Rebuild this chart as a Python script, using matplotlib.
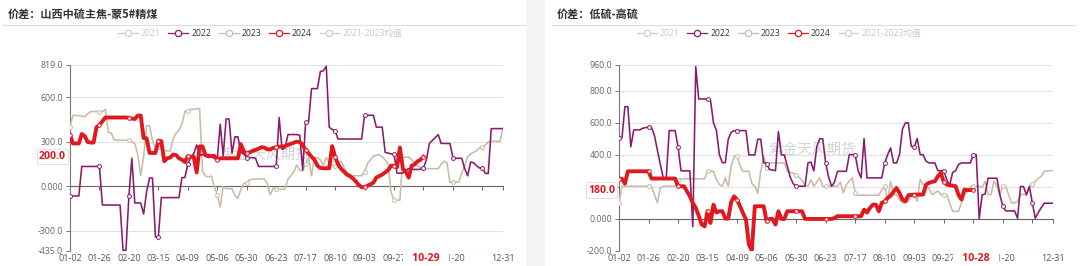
import matplotlib
matplotlib.use('Agg')
import matplotlib.pyplot as plt
from matplotlib.lines import Line2D
from matplotlib.patches import Rectangle
from matplotlib.transforms import blended_transform_factory as blend

plt.rcParams['font.family'] = ['Open Sans', 'Noto Sans CJK SC', 'DejaVu Sans']

# ---------------- data ----------------
n_cat = 148
tick_idx = [0, 10, 20, 30, 40, 50, 60, 70, 80, 90, 100, 110, 120, 130, 140, 147]
tick_labels = ['01-02', '01-26', '02-20', '03-15', '04-09', '05-06', '05-30', '06-23',
               '07-17', '08-10', '09-03', '09-27', '10-21', '11-20', '', '12-31']

legend_names = ['2021', '2022', '2023', '2024', '2021-2023均值']

left_title = '价差：山西中硫主焦-蒙5#精煤'
left_last_date = '10-29'
left_yticks = [819, 600, 300, 0, -300, -435]
left_ylabels = ['819.0', '600.0', '300.0', '0.000', '-300.0', '-435.0']
left_2022 = [-64, -64, -64, -64, 135, 135, 135, 135, 135, 135,
             135, -125, -125, -125, -125, -125, -125, -125, -430, -430,
             -64, 190, -111, -111, -111, -185, -37, 57, 57, -340,
             -340, -75, -75, -75, -75, -75, -75, -75, 60, 60,
             150, 200, 220, 280, 210, 215, 205, 195, 200, 190,
             185, 420, 205, 455, 455, 225, 335, 335, 230, 220,
             195, 195, 195, 190, 135, 135, 135, 135, 135, 135,
             135, 465, 250, 260, 350, 350, 350, 350, 345, 110,
             435, 435, 660, 660, 660, 775, 780, 810, 400, 385,
             375, 320, 320, 320, 320, 320, 320, 320, 320, 320,
             480, 480, 480, 480, 400, 400, 400, 230, 225, 220,
             218, 90, 90, 90, 110, 120, 115, 115, 115, 115,
             125, 180, 290, 310, 330, 350, 290, 290, 290, 290,
             195, 190, 190, 190, 120, 72, 165, 160, 140, 125,
             125, 88, 88, 390, 390, 390, 390, 390]
left_2023 = [400, 480, 480, 475, 475, 470, 490, 505, 505, 505,
             505, 505, 520, 365, 360, 315, 312, 312, 312, 312,
             312, 300, 290, 218, 72, 200, 410, 410, 310, 260,
             263, 250, 240, 240, 240, 320, 360, 380, 420, 505,
             510, 520, 520, 525, 525, 100, 70, 65, 70, 0,
             -55, -140, 0, -15, -15, -15, -60, -80, -20, 20,
             25, 45, 50, 50, 50, 50, 50, 20, -55, -10,
             -18, -18, -18, -18, 50, 72, 100, 145, 110, 106,
             150, 195, 72, 195, 195, 180, 140, 195, 160, 140,
             140, 160, 170, 130, 95, 80, 72, 72, 72, 72,
             100, 155, 180, 205, 210, 215, 200, 180, 150, -40,
             -92, -92, -92, 195, 197, 200, 180, 160, 140, 125,
             122, 120, 120, 120, 120, 120, 150, 170, 160, 27,
             30, 30, 30, 90, 140, 200, 220, 230, 240, 262,
             267, 280, 300, 305, 305, 305, 305, 395]
left_2024 = [347, 290, 290, 290, 354, 340, 300, 296, 296, 400,
             415, 440, 465, 465, 465, 465, 465, 465, 465, 465,
             464, 458, 455, 478, 478, 327, 325, 226, 226, 226,
             309, 305, 170, 190, 195, 215, 212, 190, 180, 165,
             205, 200, 200, 95, 270, 270, 210, 208, 205, 206,
             180, 190, 190, 190, 190, 190, 190, 190, 285, 235,
             224, 230, 240, 246, 255, 265, 262, 250, 250, 260,
             264, 268, 270, 272, 280, 288, 295, 302, 300, 280,
             246, 224, 200, 180, 140, 125, 123, 123, 123, 272,
             200, 150, 120, 100, 80, 70, 55, 35, 10, -5,
             -5, 5, 15, 25, 60, 70, 80, 95, 110, 140,
             140, 130, 262, 120, 100, 60, 140, 150, 170, 180,
             200]

right_title = '价差：低硫-高硫'
right_last_date = '10-28'
right_yticks = [960, 800, 600, 400, 200, 0, -200]
right_ylabels = ['960.0', '800.0', '600.0', '400.0', '', '0.000', '-200.0']
right_2022 = [505, 505, 700, 700, 450, 555, 555, 555, 565, 570,
              572, 572, 520, 430, 340, 255, 255, 551, 551, 551,
              450, 300, 300, 300, 300, -48, 950, 748, 748, 748,
              748, 740, 600, 551, 400, 351, 351, 497, 540, 551,
              551, 551, 551, 551, 399, 399, 399, 497, 497, 351,
              345, 308, 305, 301, 545, 399, 399, 330, 260, 220,
              204, 204, 204, 204, 349, 355, 300, 450, 500, 500,
              351, 260, 204, 230, 297, 297, 297, 297, 401, 401,
              401, 300, 256, 501, 256, 256, 256, 256, 256, 256,
              349, 401, 443, 349, 349, 401, 560, 599, 599, 453,
              450, 501, 401, 401, 360, 349, 349, 349, 301, 301,
              301, 245, 210, 290, 300, 340, 349, 349, 349, 349,
              401, 401, 0, 150, 155, 254, 254, 254, 254, 150,
              80, 50, 50, 50, 50, 4, 202, 202, 150, 202,
              100, 4, 40, 70, 98, 98, 98, 98]
right_2023 = [100, 204, 204, 204, 204, 204, 204, 204, 204, 204,
              204, 204, 152, 100, 193, 204, 204, 204, 204, 204,
              245, 250, 250, 250, 250, 250, 250, 250, 250, 250,
              297, 297, 297, 245, 215, 204, 256, 204, 330, 391,
              391, 330, 297, 297, 297, 220, 204, 160, 297, 391,
              320, 349, 349, 349, 349, 349, 349, 297, 290, 285,
              276, 260, 240, 214, 204, 245, 204, 230, 256, 204,
              204, 204, 204, 204, 204, 230, 162, 214, 235, 256,
              162, 148, 148, 148, 148, 148, 148, 148, 148, 180,
              204, 110, 235, 152, 152, 120, 100, 100, 110, 140,
              152, 110, 245, 215, 204, 190, 152, 162, 175, 152,
              152, 152, 100, 48, 48, 48, 100, 152, 170, 204,
              204, 204, 204, 195, 235, 152, 152, 235, 204, 152,
              204, 204, 150, 100, 100, 110, 152, 152, 152, 204,
              215, 235, 252, 265, 297, 300, 301, 301]
right_2024 = [252, 250, 220, 297, 297, 297, 297, 297, 297, 297,
              297, 252, 252, 252, 252, 252, 252, 252, 252, 252,
              204, 204, 204, 173, 141, 100, 69, 20, -35, -46,
              48, -25, 89, 40, 48, 48, 2, 2, 106, 141,
              120, 79, 37, -4, -160, -198, 79, 79, 79, 79,
              -15, 0, 0, -35, 48, 0, 0, 48, 48, 48,
              48, 48, 48, 0, 0, 0, 0, 0, 0, 0,
              0, 0, 0, 6, 17, 17, 17, 17, 17, 17,
              17, 17, 17, 58, 40, 69, 89, 89, 48, 100,
              110, 131, 145, 170, 193, 162, 121, 110, 148, 150,
              152, 152, 152, 152, 214, 225, 231, 235, 266, 287,
              231, 214, 210, 208, 204, 150, 121, 183, 180, 180,
              180]

# ---------------- style ----------------
C21 = '#cccccc'
C22 = '#8a1a6c'
C23 = '#c9bba8'
C24 = '#e0191f'
CAVG = '#cccccc'
RED_TXT = '#e0191f'

W, H = 1080, 266
fig = plt.figure(figsize=(W / 100, H / 100), dpi=100)
fig.patch.set_facecolor('white')

# gray gap between the two panels
fig.patches.append(Rectangle((526 / W, 0), 19 / W, 1, transform=fig.transFigure,
                             facecolor='#f3f3f3', edgecolor='none', zorder=0))


def panel(rect, title, title_x, sep, legend_x, s22, s23, s24, yticks, ylabels,
          last_date, wm_pos):
    ax = fig.add_axes(rect)
    ax.set_facecolor('none')
    x = list(range(n_cat))
    ax.plot(x[:len(s23)], s23, color=C23, lw=1.15, marker='o', ms=2.8, mfc='white',
            mec=C23, mew=0.7, markevery=10, zorder=3)
    ax.plot(x[:len(s22)], s22, color=C22, lw=1.15, marker='o', ms=2.8, mfc='white',
            mec=C22, mew=0.7, markevery=10, zorder=4)
    ax.plot(x[:len(s24)], s24, color=C24, lw=2.8, marker='o', ms=2.6, mfc='white',
            mec=C24, mew=0.7, markevery=10, zorder=5, solid_joinstyle='round')

    ax.set_xlim(0, n_cat - 1)
    ax.set_ylim(yticks[-1], yticks[0])
    ax.set_yticks(yticks)
    ax.set_yticklabels(ylabels)
    ax.grid(axis='y', color='#e2e2e2', lw=0.8, zorder=0)
    ax.set_axisbelow(True)

    for s in ['top', 'right']:
        ax.spines[s].set_visible(False)
    ax.spines['left'].set_color('#777777')
    ax.spines['left'].set_linewidth(0.8)
    ax.spines['bottom'].set_position(('data', 0))
    ax.spines['bottom'].set_color('#666666')
    ax.spines['bottom'].set_linewidth(0.8)
    ax.spines['bottom'].set_zorder(2)

    ax.set_xticks(tick_idx)
    ax.tick_params(axis='x', length=3, width=0.7, color='#666666', direction='out',
                   labelbottom=False)
    ax.tick_params(axis='y', length=3, width=0.7, color='#777777', labelsize=6.3,
                   labelcolor='#666666', pad=2)

    last_i = len(s24) - 1
    tr = blend(ax.transData, ax.transAxes)
    for i, lab in zip(tick_idx, tick_labels):
        if i == last_i:
            continue  # hidden under the highlighted latest-date label
        ax.text(i, -0.018, lab, transform=tr, ha='center', va='top', fontsize=6.5,
                color='#555555', zorder=6)
    ax.text(last_i + 0.8, -0.012, '   ' + last_date + '   ', transform=tr, ha='center',
            va='top', fontsize=7.6, fontweight='bold', color=RED_TXT, zorder=7,
            bbox=dict(boxstyle='square,pad=0.1', fc='white', ec='none'))

    # latest value label on the y axis
    tr2 = blend(ax.transAxes, ax.transData)
    ax.text(-0.009, s24[-1], f'{s24[-1]:.1f}', transform=tr2, ha='right', va='center',
            fontsize=7.6, fontweight='bold', color=RED_TXT, zorder=8,
            bbox=dict(boxstyle='square,pad=0.2', fc='white', ec='#dddddd', lw=0.6))

    # watermark
    ax.text(wm_pos[0], wm_pos[1], '紫金天风期货', transform=ax.transAxes, ha='center',
            va='center', fontsize=10.5, color='#d4d4d4', family='Noto Sans CJK SC',
            zorder=1)

    # title and separator
    fig.text(title_x / W, 1 - 14.5 / H, title, fontsize=8, fontweight='bold',
             color='#333333', va='center', ha='left', family='Noto Sans CJK SC')
    fig.add_artist(Line2D([sep[0] / W, sep[1] / W], [1 - 25 / H, 1 - 25 / H],
                          transform=fig.transFigure, color='#dddddd', lw=0.8))

    # legend
    cols = [C21, C22, C23, C24, CAVG]
    handles = [Line2D([], [], color=c, lw=0.9, marker='o', ms=4.5, mfc='white', mec=c,
                      mew=0.9) for c in cols]
    leg = fig.legend(handles, legend_names, loc='center', ncol=5,
                     bbox_to_anchor=(legend_x / W, 1 - 33.5 / H), frameon=False,
                     fontsize=6.2, handlelength=2.3, handletextpad=0.35,
                     columnspacing=0.9, borderaxespad=0, borderpad=0)
    tcols = ['#c8c8c8', '#333333', '#333333', '#333333', '#c8c8c8']
    for t, c in zip(leg.get_texts(), tcols):
        t.set_color(c)
    return ax


panel([70 / W, 15 / H, 433 / W, 186 / H], left_title, 8, (3, 525), 260,
      left_2022, left_2023, left_2024, left_yticks, left_ylabels, left_last_date,
      (0.453, 0.516))
panel([619 / W, 15 / H, 434 / W, 186 / H], right_title, 557, (552, 1074), 779,
      right_2022, right_2023, right_2024, right_yticks, right_ylabels, right_last_date,
      (0.445, 0.543))

fig.savefig('out.png', dpi=100)
